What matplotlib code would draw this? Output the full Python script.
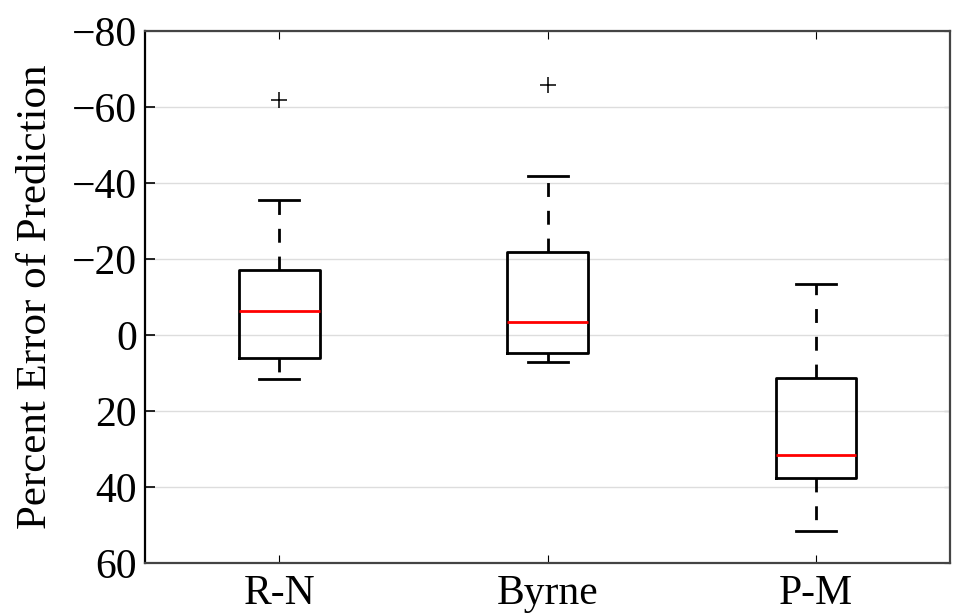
import matplotlib
matplotlib.use("Agg")
import matplotlib.pyplot as plt

# summary statistics of percent error per method
methods = ["R-N", "Byrne", "P-M"]
medians = [-6.2, -3.3, 31.6]
q1s = [6.0, 4.7, 37.7]
q3s = [-17.1, -21.8, 11.4]
whis_lo = [11.7, 7.0, 51.5]
whis_hi = [-35.5, -41.8, -13.5]
outliers = [[-61.8], [-65.8], []]
yticks = [-80, -60, -40, -20, 0, 20, 40, 60]

plt.rcParams['font.family'] = ['Liberation Serif', 'DejaVu Serif']
plt.rcParams['font.size'] = 30

stats = []
for i, name in enumerate(methods):
    stats.append(dict(label=name, med=medians[i], q1=q1s[i], q3=q3s[i],
                      whislo=whis_lo[i], whishi=whis_hi[i], fliers=outliers[i]))

fig = plt.figure(figsize=(9.55, 6.16), dpi=100)
ax = fig.add_axes([0.152, 0.086, 0.843, 0.864])

lw = 2.0
ax.bxp(stats, positions=[1, 2, 3], widths=0.3,
       boxprops=dict(color='black', linewidth=lw),
       medianprops=dict(color='red', linewidth=lw),
       whiskerprops=dict(color='black', linewidth=lw, linestyle=(0, (5, 5))),
       capprops=dict(color='black', linewidth=lw),
       flierprops=dict(marker='+', markeredgecolor='black', markersize=11,
                       markeredgewidth=1.1, linestyle='none'))

ax.set_xlim(0.5, 3.5)
ax.set_ylim(60, -80)
ax.set_yticks(yticks)
ax.yaxis.grid(True, color='#dddddd', linewidth=1.0)
ax.set_axisbelow(True)
ax.tick_params(axis='y', direction='in', left=True, right=False,
               length=7, width=1.2, pad=6)
ax.tick_params(axis='x', direction='in', top=True, bottom=True,
               length=6, width=0.8, pad=8)
for side, sp in ax.spines.items():
    sp.set_linewidth(1.6)
    sp.set_color('black' if side == 'left' else '#444444')

# small unlabeled ticks along the right edge
sec = ax.secondary_yaxis('right')
sec.set_yticks(yticks)
sec.tick_params(direction='in', length=4, width=0.8, labelright=False)
sec.spines['right'].set_visible(False)

ax.set_ylabel("Percent Error of Prediction", fontsize=31, labelpad=12)

fig.savefig("out.png", dpi=100)
